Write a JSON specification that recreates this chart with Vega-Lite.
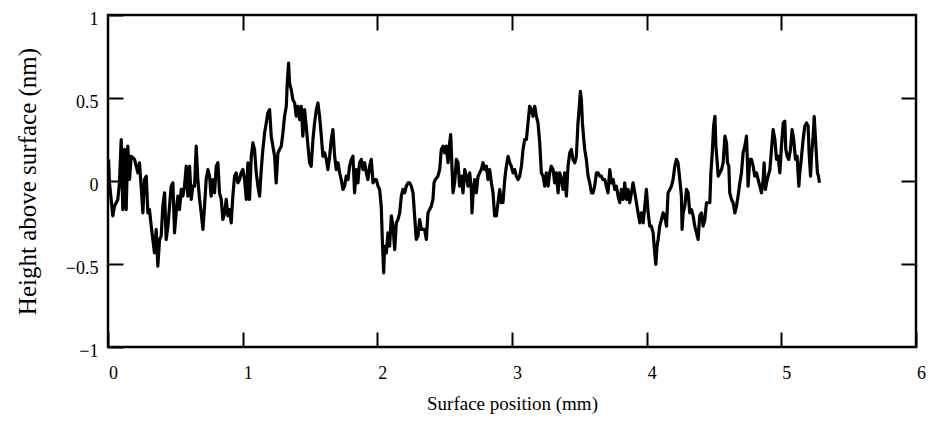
{
  "$schema": "https://vega.github.io/schema/vega-lite/v6.json",
  "width": 808,
  "height": 332,
  "autosize": {"type": "none"},
  "padding": {"left": 108, "top": 15, "right": 13, "bottom": 76},
  "background": "white",
  "config": {
    "view": {"stroke": "black", "strokeWidth": 2.5},
    "axis": {"grid": false, "domain": false, "tickColor": "black", "tickWidth": 2, "tickSize": -15, "labelColor": "black", "labelFont": "Liberation Serif", "labelFontSize": 18, "titleFont": "Liberation Serif", "titleColor": "black", "titleFontWeight": "normal", "labelFlush": false, "labelOverlap": false}
  },
  "data": {"values": [
{"pos":0.004,"h":0.13},{"pos":0.011,"h":-0.011},{"pos":0.036,"h":-0.21},{"pos":0.048,"h":-0.152},{"pos":0.073,"h":-0.111},{"pos":0.085,"h":-0.011},{"pos":0.098,"h":0.25},{"pos":0.110,"h":-0.172},{"pos":0.123,"h":0.19},{"pos":0.135,"h":-0.172},{"pos":0.147,"h":0.21},{"pos":0.160,"h":0.009},{"pos":0.172,"h":0.149},{"pos":0.197,"h":0.13},{"pos":0.222,"h":0.049},{"pos":0.234,"h":0.11},{"pos":0.246,"h":-0.031},{"pos":0.259,"h":-0.192},{"pos":0.271,"h":0.009},{"pos":0.284,"h":0.029},{"pos":0.296,"h":-0.192},{"pos":0.308,"h":-0.172},{"pos":0.321,"h":-0.272},{"pos":0.333,"h":-0.352},{"pos":0.345,"h":-0.433},{"pos":0.358,"h":-0.292},{"pos":0.370,"h":-0.513},{"pos":0.383,"h":-0.352},{"pos":0.395,"h":-0.332},{"pos":0.407,"h":-0.152},{"pos":0.420,"h":-0.071},{"pos":0.432,"h":-0.352},{"pos":0.445,"h":-0.272},{"pos":0.457,"h":-0.152},{"pos":0.469,"h":-0.031},{"pos":0.482,"h":-0.011},{"pos":0.494,"h":-0.312},{"pos":0.506,"h":-0.192},{"pos":0.519,"h":-0.091},{"pos":0.531,"h":-0.172},{"pos":0.544,"h":-0.051},{"pos":0.556,"h":-0.091},{"pos":0.568,"h":-0.031},{"pos":0.581,"h":0.089},{"pos":0.593,"h":-0.091},{"pos":0.606,"h":0.089},{"pos":0.618,"h":-0.111},{"pos":0.630,"h":-0.031},{"pos":0.643,"h":-0.031},{"pos":0.655,"h":0.21},{"pos":0.667,"h":0.009},{"pos":0.680,"h":-0.111},{"pos":0.692,"h":-0.192},{"pos":0.705,"h":-0.292},{"pos":0.717,"h":-0.152},{"pos":0.729,"h":0.009},{"pos":0.742,"h":0.069},{"pos":0.754,"h":0.029},{"pos":0.766,"h":-0.091},{"pos":0.779,"h":0.009},{"pos":0.791,"h":-0.071},{"pos":0.804,"h":0.089},{"pos":0.816,"h":0.11},{"pos":0.828,"h":-0.071},{"pos":0.841,"h":-0.111},{"pos":0.853,"h":-0.232},{"pos":0.866,"h":-0.192},{"pos":0.878,"h":-0.111},{"pos":0.890,"h":-0.21},{"pos":0.903,"h":-0.172},{"pos":0.915,"h":-0.252},{"pos":0.927,"h":-0.091},{"pos":0.940,"h":0.029},{"pos":0.952,"h":0.049},{"pos":0.965,"h":-0.011},{"pos":0.977,"h":0.009},{"pos":0.989,"h":0.049},{"pos":1.002,"h":0.069},{"pos":1.014,"h":0.009},{"pos":1.027,"h":-0.111},{"pos":1.039,"h":0.11},{"pos":1.051,"h":-0.111},{"pos":1.064,"h":0.149},{"pos":1.076,"h":0.23},{"pos":1.088,"h":0.19},{"pos":1.101,"h":0.049},{"pos":1.113,"h":-0.031},{"pos":1.126,"h":-0.091},{"pos":1.138,"h":0.069},{"pos":1.150,"h":0.19},{"pos":1.163,"h":0.29},{"pos":1.175,"h":0.35},{"pos":1.187,"h":0.41},{"pos":1.200,"h":0.43},
{"pos":1.212,"h":0.27},{"pos":1.237,"h":0.149},{"pos":1.249,"h":-0.011},{"pos":1.262,"h":0.17},{"pos":1.274,"h":0.19},{"pos":1.287,"h":0.21},{"pos":1.299,"h":0.29},{"pos":1.311,"h":0.39},{"pos":1.324,"h":0.45},{"pos":1.331,"h":0.59},{"pos":1.341,"h":0.71},{"pos":1.348,"h":0.59},{"pos":1.361,"h":0.55},{"pos":1.373,"h":0.49},{"pos":1.386,"h":0.47},{"pos":1.398,"h":0.39},{"pos":1.410,"h":0.45},{"pos":1.423,"h":0.37},{"pos":1.435,"h":0.45},{"pos":1.447,"h":0.27},{"pos":1.460,"h":0.43},{"pos":1.472,"h":0.33},{"pos":1.485,"h":0.21},{"pos":1.497,"h":0.11},{"pos":1.509,"h":0.089},{"pos":1.522,"h":0.25},{"pos":1.534,"h":0.35},{"pos":1.547,"h":0.43},{"pos":1.559,"h":0.47},{"pos":1.571,"h":0.39},{"pos":1.584,"h":0.27},{"pos":1.596,"h":0.149},{"pos":1.608,"h":0.17},{"pos":1.621,"h":0.13},{"pos":1.633,"h":0.069},{"pos":1.646,"h":0.149},{"pos":1.658,"h":0.25},{"pos":1.670,"h":0.31},{"pos":1.683,"h":0.149},{"pos":1.695,"h":0.069},{"pos":1.708,"h":0.11},{"pos":1.720,"h":0.049},{"pos":1.732,"h":0.009},{"pos":1.745,"h":-0.051},{"pos":1.757,"h":-0.031},{"pos":1.769,"h":0.029},{"pos":1.782,"h":0.009},{"pos":1.794,"h":0.089},{"pos":1.807,"h":0.13},{"pos":1.819,"h":0.149},{"pos":1.831,"h":-0.071},{"pos":1.844,"h":0.069},{"pos":1.856,"h":-0.011},{"pos":1.868,"h":0.11},{"pos":1.881,"h":0.13},{"pos":1.893,"h":0.069},{"pos":1.906,"h":0.11},{"pos":1.918,"h":0.049},{"pos":1.930,"h":0.009},{"pos":1.943,"h":0.089},{"pos":1.955,"h":0.13},{"pos":1.968,"h":-0.011},{"pos":1.980,"h":0.009},{"pos":1.992,"h":0.009},{"pos":2.005,"h":-0.031},{"pos":2.017,"h":-0.051},{"pos":2.029,"h":-0.152},{"pos":2.037,"h":-0.352},{"pos":2.047,"h":-0.553},{"pos":2.054,"h":-0.393},{"pos":2.067,"h":-0.433},{"pos":2.079,"h":-0.312},{"pos":2.091,"h":-0.393},{"pos":2.104,"h":-0.21},{"pos":2.116,"h":-0.272},{"pos":2.129,"h":-0.413},{"pos":2.141,"h":-0.252},{"pos":2.153,"h":-0.232},{"pos":2.166,"h":-0.192},{"pos":2.178,"h":-0.091},{"pos":2.190,"h":-0.051},{"pos":2.203,"h":-0.071},{"pos":2.215,"h":-0.031},{"pos":2.228,"h":-0.011},{"pos":2.240,"h":-0.011},{"pos":2.252,"h":-0.031},{"pos":2.265,"h":-0.071},{"pos":2.277,"h":-0.21},{"pos":2.289,"h":-0.352},{"pos":2.302,"h":-0.332},{"pos":2.314,"h":-0.232},{"pos":2.327,"h":-0.292},{"pos":2.351,"h":-0.292},{"pos":2.364,"h":-0.352},
{"pos":2.376,"h":-0.192},{"pos":2.388,"h":-0.172},{"pos":2.401,"h":-0.152},{"pos":2.413,"h":-0.111},{"pos":2.421,"h":-0.011},{"pos":2.431,"h":0.009},{"pos":2.450,"h":0.029},{"pos":2.463,"h":0.069},{"pos":2.475,"h":0.19},{"pos":2.488,"h":0.21},{"pos":2.500,"h":0.17},{"pos":2.512,"h":0.21},{"pos":2.525,"h":0.11},{"pos":2.537,"h":0.23},{"pos":2.545,"h":0.28},{"pos":2.554,"h":0.089},{"pos":2.562,"h":-0.071},{"pos":2.574,"h":-0.011},{"pos":2.587,"h":0.13},{"pos":2.599,"h":0.11},{"pos":2.611,"h":-0.031},{"pos":2.624,"h":0.029},{"pos":2.636,"h":-0.071},{"pos":2.649,"h":0.069},{"pos":2.661,"h":0.029},{"pos":2.673,"h":-0.031},{"pos":2.686,"h":0.049},{"pos":2.698,"h":-0.051},{"pos":2.703,"h":-0.192},{"pos":2.710,"h":-0.091},{"pos":2.723,"h":0.009},{"pos":2.735,"h":-0.071},{"pos":2.748,"h":0.029},{"pos":2.760,"h":0.049},{"pos":2.772,"h":0.069},{"pos":2.785,"h":0.11},{"pos":2.797,"h":0.069},{"pos":2.810,"h":0.089},{"pos":2.822,"h":0.009},{"pos":2.834,"h":0.069},{"pos":2.847,"h":-0.011},{"pos":2.859,"h":-0.071},{"pos":2.871,"h":-0.21},{"pos":2.884,"h":-0.21},{"pos":2.896,"h":-0.131},{"pos":2.909,"h":-0.051},{"pos":2.921,"h":-0.131},{"pos":2.933,"h":-0.131},{"pos":2.946,"h":0.009},{"pos":2.958,"h":0.089},{"pos":2.971,"h":0.149},{"pos":2.983,"h":0.11},{"pos":2.995,"h":0.089},{"pos":3.008,"h":0.049},{"pos":3.020,"h":0.069},{"pos":3.032,"h":0.029},{"pos":3.045,"h":0.009},{"pos":3.057,"h":0.029},{"pos":3.070,"h":0.089},{"pos":3.082,"h":0.19},{"pos":3.094,"h":0.25},{"pos":3.107,"h":0.25},{"pos":3.119,"h":0.35},{"pos":3.131,"h":0.45},{"pos":3.144,"h":0.43},{"pos":3.156,"h":0.39},{"pos":3.169,"h":0.45},{"pos":3.181,"h":0.39},{"pos":3.193,"h":0.35},{"pos":3.206,"h":0.23},{"pos":3.218,"h":0.049},{"pos":3.231,"h":0.029},{"pos":3.243,"h":-0.031},{"pos":3.255,"h":0.049},{"pos":3.268,"h":-0.031},{"pos":3.280,"h":0.049},{"pos":3.292,"h":0.089},{"pos":3.305,"h":0.069},{"pos":3.317,"h":-0.011},{"pos":3.330,"h":0.049},{"pos":3.342,"h":-0.071},{"pos":3.354,"h":0.049},{"pos":3.367,"h":0.009},{"pos":3.379,"h":-0.051},{"pos":3.391,"h":0.049},{"pos":3.404,"h":-0.091},{"pos":3.416,"h":0.089},{"pos":3.429,"h":0.17},{"pos":3.441,"h":0.19},{"pos":3.453,"h":0.13},{"pos":3.466,"h":0.11},{"pos":3.478,"h":0.149},{"pos":3.490,"h":0.35},{"pos":3.498,"h":0.43},{"pos":3.508,"h":0.54},{"pos":3.515,"h":0.49},{"pos":3.523,"h":0.35},{"pos":3.533,"h":0.25},{"pos":3.540,"h":0.19},{"pos":3.552,"h":0.13},{"pos":3.565,"h":0.029},{"pos":3.577,"h":-0.011},{"pos":3.590,"h":-0.071},{"pos":3.602,"h":-0.071},{"pos":3.614,"h":-0.031},
{"pos":3.627,"h":0.049},{"pos":3.639,"h":0.049},{"pos":3.652,"h":0.029},{"pos":3.664,"h":0.029},{"pos":3.676,"h":0.009},{"pos":3.689,"h":0.009},{"pos":3.701,"h":-0.031},{"pos":3.713,"h":-0.071},{"pos":3.726,"h":0.069},{"pos":3.738,"h":-0.011},{"pos":3.751,"h":0.009},{"pos":3.763,"h":-0.051},{"pos":3.775,"h":-0.031},{"pos":3.788,"h":-0.091},{"pos":3.800,"h":-0.131},{"pos":3.813,"h":-0.051},{"pos":3.825,"h":-0.111},{"pos":3.837,"h":-0.011},{"pos":3.850,"h":-0.111},{"pos":3.862,"h":-0.051},{"pos":3.874,"h":-0.131},{"pos":3.887,"h":-0.071},{"pos":3.899,"h":-0.011},{"pos":3.912,"h":-0.071},{"pos":3.924,"h":-0.131},{"pos":3.936,"h":-0.192},{"pos":3.949,"h":-0.252},{"pos":3.961,"h":-0.192},{"pos":3.974,"h":-0.252},{"pos":3.986,"h":-0.152},{"pos":3.998,"h":-0.051},{"pos":4.011,"h":-0.192},{"pos":4.023,"h":-0.272},{"pos":4.035,"h":-0.272},{"pos":4.048,"h":-0.312},{"pos":4.060,"h":-0.433},{"pos":4.068,"h":-0.503},{"pos":4.077,"h":-0.393},{"pos":4.085,"h":-0.352},{"pos":4.097,"h":-0.272},{"pos":4.110,"h":-0.232},{"pos":4.122,"h":-0.192},{"pos":4.134,"h":-0.21},{"pos":4.147,"h":-0.272},{"pos":4.159,"h":-0.071},{"pos":4.172,"h":-0.051},{"pos":4.184,"h":-0.031},{"pos":4.196,"h":0.009},{"pos":4.209,"h":0.089},{"pos":4.221,"h":0.13},{"pos":4.233,"h":0.11},{"pos":4.246,"h":0.009},{"pos":4.258,"h":-0.091},{"pos":4.263,"h":-0.292},{"pos":4.271,"h":-0.192},{"pos":4.283,"h":-0.152},{"pos":4.296,"h":-0.051},{"pos":4.308,"h":-0.071},{"pos":4.320,"h":-0.192},{"pos":4.333,"h":-0.172},{"pos":4.345,"h":-0.21},{"pos":4.357,"h":-0.272},{"pos":4.370,"h":-0.312},{"pos":4.382,"h":-0.352},{"pos":4.394,"h":-0.21},{"pos":4.407,"h":-0.192},{"pos":4.419,"h":-0.272},{"pos":4.432,"h":-0.232},{"pos":4.444,"h":-0.131},{"pos":4.456,"h":-0.131},{"pos":4.469,"h":-0.131},{"pos":4.477,"h":0.049},{"pos":4.487,"h":0.17},{"pos":4.497,"h":0.33},{"pos":4.507,"h":0.39},{"pos":4.514,"h":0.21},{"pos":4.524,"h":0.11},{"pos":4.531,"h":0.029},{"pos":4.544,"h":0.049},{"pos":4.556,"h":0.069},{"pos":4.568,"h":0.11},{"pos":4.581,"h":0.27},{"pos":4.593,"h":0.23},{"pos":4.600,"h":0.11},{"pos":4.610,"h":0.089},{"pos":4.617,"h":-0.071},{"pos":4.630,"h":-0.111},{"pos":4.642,"h":-0.131},{"pos":4.655,"h":-0.192},{"pos":4.667,"h":-0.152},{"pos":4.679,"h":-0.091},{"pos":4.692,"h":-0.011},{"pos":4.704,"h":0.049},{"pos":4.716,"h":0.17},{"pos":4.729,"h":0.21},{"pos":4.741,"h":0.27},
{"pos":4.746,"h":0.17},{"pos":4.753,"h":-0.031},{"pos":4.766,"h":0.13},{"pos":4.778,"h":0.13},{"pos":4.791,"h":0.089},{"pos":4.803,"h":0.029},{"pos":4.816,"h":0.049},{"pos":4.828,"h":0.009},{"pos":4.840,"h":-0.031},{"pos":4.853,"h":-0.071},{"pos":4.865,"h":0.009},{"pos":4.872,"h":0.11},{"pos":4.882,"h":-0.051},{"pos":4.890,"h":-0.011},{"pos":4.902,"h":0.029},{"pos":4.915,"h":0.069},{"pos":4.927,"h":0.19},{"pos":4.939,"h":0.31},{"pos":4.952,"h":0.25},{"pos":4.964,"h":0.13},{"pos":4.976,"h":0.149},{"pos":4.989,"h":0.049},{"pos":5.001,"h":0.21},{"pos":5.014,"h":0.35},{"pos":5.026,"h":0.36},{"pos":5.033,"h":0.19},{"pos":5.043,"h":0.149},{"pos":5.055,"h":0.13},{"pos":5.068,"h":0.19},{"pos":5.080,"h":0.31},{"pos":5.092,"h":0.25},{"pos":5.105,"h":0.13},{"pos":5.117,"h":0.149},{"pos":5.130,"h":-0.031},{"pos":5.137,"h":0.049},{"pos":5.150,"h":0.149},{"pos":5.162,"h":0.25},{"pos":5.174,"h":0.33},{"pos":5.187,"h":0.35},{"pos":5.199,"h":0.33},{"pos":5.206,"h":0.17},{"pos":5.217,"h":0.029},{"pos":5.224,"h":0.149},{"pos":5.236,"h":0.27},{"pos":5.244,"h":0.39},{"pos":5.254,"h":0.25},{"pos":5.261,"h":0.149},{"pos":5.268,"h":0.049},{"pos":5.276,"h":0.029},{"pos":5.283,"h":-0.011}
  ]},
  "layer": [
    {
      "mark": {"type": "line", "color": "black", "strokeWidth": 3.2, "strokeJoin": "round", "clip": true},
      "encoding": {
        "x": {"field": "pos", "type": "quantitative", "scale": {"domain": [0, 6], "nice": false, "zero": false},
          "axis": {"orient": "bottom", "values": [0, 1, 2, 3, 4, 5, 6], "format": "~g", "labelPadding": 41, "labelBaseline": "middle", "labelOffset": 5, "title": "Surface position (mm)", "titleFontSize": 19, "titleY": 56, "titleBaseline": "middle"}},
        "y": {"field": "h", "type": "quantitative", "scale": {"domain": [-1, 1], "nice": false, "zero": false},
          "axis": {"orient": "left", "values": [-1, -0.5, 0, 0.5, 1], "format": "~g", "labelPadding": 25, "labelAlign": "right", "labelBaseline": "middle", "labelOffset": 4, "title": "Height above surface (nm)", "titleFontSize": 25, "titleX": -81, "titleY": 166, "titleAngle": -90, "titleAlign": "center", "titleBaseline": "middle"}}
      }
    },
    {
      "mark": {"type": "line", "strokeOpacity": 0},
      "encoding": {
        "x": {"field": "pos", "type": "quantitative", "axis": {"orient": "top", "values": [1, 2, 3, 4, 5], "labels": false, "title": null}},
        "y": {"field": "h", "type": "quantitative", "axis": {"orient": "right", "values": [-0.5, 0, 0.5], "labels": false, "title": null}}
      }
    }
  ],
  "resolve": {"axis": {"x": "independent", "y": "independent"}}
}
